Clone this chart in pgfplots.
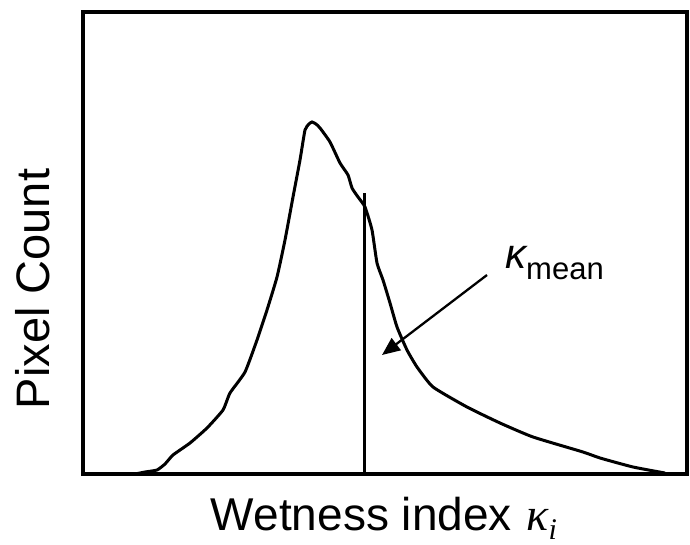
\documentclass[border=0pt]{standalone}
\usepackage{fontspec}
\setmainfont{Liberation Sans}
\newfontfamily\serifgr{Liberation Serif}
\usepackage{pgfplots}
\pgfplotsset{compat=1.18}
\usetikzlibrary{arrows.meta}
\begin{document}
\begin{tikzpicture}[x=1pt,y=1pt]
\path[use as bounding box] (0,0) rectangle (690,544);
\begin{axis}[
  at={(83pt,70pt)}, anchor=south west,
  scale only axis, width=604pt, height=462pt,
  xmin=83, xmax=687, ymin=0, ymax=462,
  xtick=\empty, ytick=\empty,
  axis line style={line width=3.5pt},
  clip=false,
]
\addplot[black, line width=3pt, smooth, tension=0.3] coordinates {
(135,0) (145,2) (157,4) (165,10) (173,19) (190,31) (207,46) (223,64)
(230,81) (245,102) (257,134) (267,164) (277,197) (285,234) (293,277)
(300,314) (305,344) (309,350) (312,352) (316,350) (320,346) (330,332)
(340,311) (348,299) (352,286) (358,277) (365,267) (372,244) (377,211)
(383,194) (390,171) (397,147) (407,124) (417,107) (433,87) (467,67)
(500,51) (533,37) (583,22) (600,16) (633,7) (665,1)
};
\addplot[black, line width=3pt] coordinates {(364,0) (364,281)};
\draw[black, line width=2.3pt, -{Triangle[length=18pt,width=15pt]}] (axis cs:487,199) -- (axis cs:382,119);
\node[anchor=base west, inner sep=0pt, font=\fontsize{42}{46}\selectfont] at (axis cs:505,206) {\itshape κ\upshape\raisebox{-11pt}{\fontsize{31}{34}\selectfont mean}};
\node[rotate=90, inner sep=0pt, font=\fontsize{47}{56}\selectfont] at (axis cs:33,185) {Pixel Count};
\node[anchor=base, inner sep=0pt, font=\fontsize{46}{56}\selectfont] at (axis cs:384,-56) {Wetness index\hspace{2pt} {\serifgr\itshape κ\raisebox{-9pt}{\fontsize{30}{34}\selectfont i}}};
\end{axis}
\end{tikzpicture}
\end{document}
